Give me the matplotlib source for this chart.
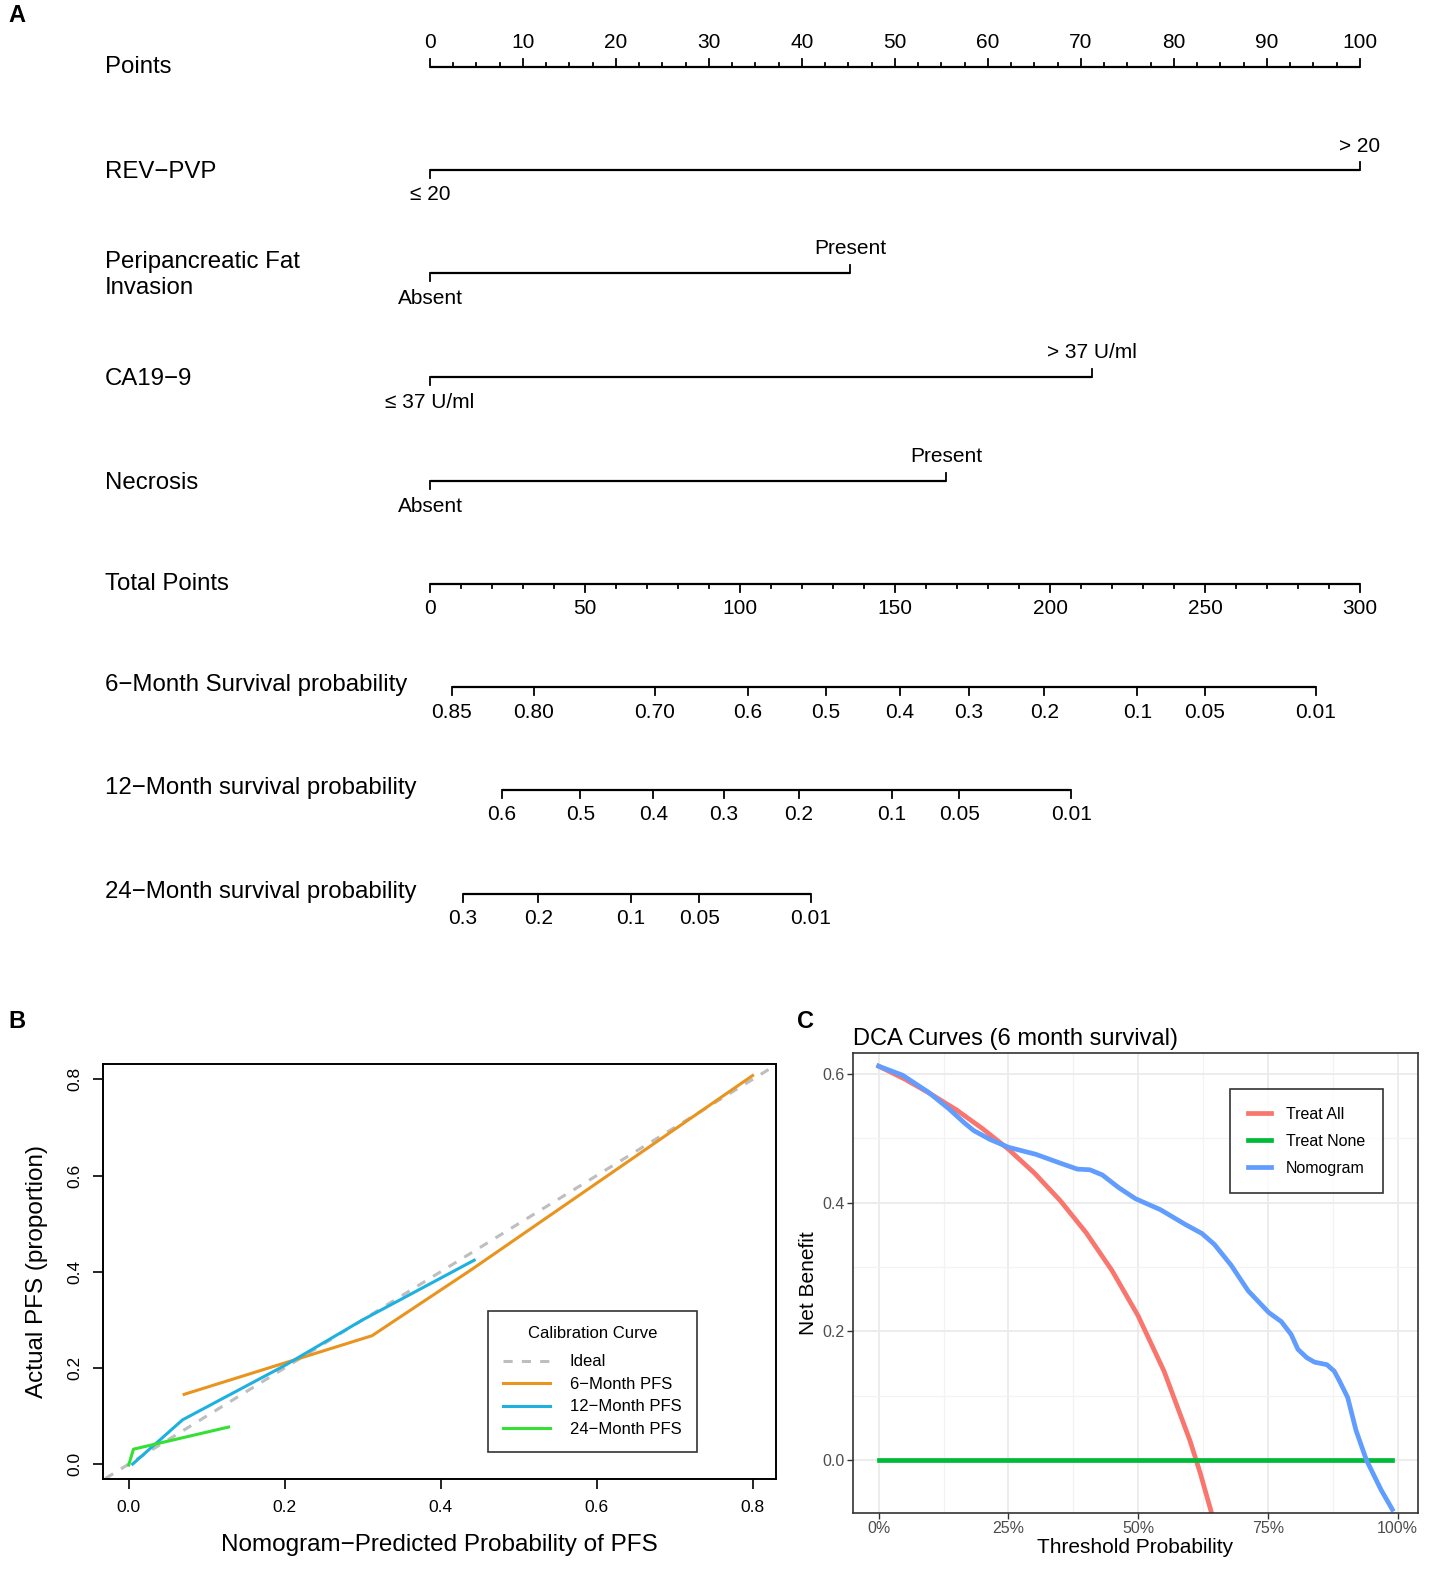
import numpy as np
import matplotlib
matplotlib.use("Agg")
import matplotlib.pyplot as plt

plt.rcParams['font.family'] = ['Liberation Sans', 'DejaVu Sans']

# ---- Panel A: nomogram (points scales) ----
points_ticks = [0, 10, 20, 30, 40, 50, 60, 70, 80, 90, 100]
total_ticks = [0, 50, 100, 150, 200, 250, 300]

var_names = ["REV\u2212PVP", "Peripancreatic Fat\nInvasion", "CA19\u22129", "Necrosis"]
var_low = ["\u2264 20", "Absent", "\u2264 37 U/ml", "Absent"]
var_high = ["> 20", "Present", "> 37 U/ml", "Present"]
var_points = [100, 45.2, 71.2, 55.5]

surv6_labels = ["0.85", "0.80", "0.70", "0.6", "0.5", "0.4", "0.3", "0.2", "0.1", "0.05", "0.01"]
surv6_total = [7.0, 33.4, 72.5, 102.5, 127.8, 151.5, 173.9, 198.2, 228.2, 249.9, 285.8]
surv12_labels = ["0.6", "0.5", "0.4", "0.3", "0.2", "0.1", "0.05", "0.01"]
surv12_total = [23.2, 48.5, 72.0, 94.8, 119.0, 148.9, 170.8, 206.8]
surv24_labels = ["0.3", "0.2", "0.1", "0.05", "0.01"]
surv24_total = [10.7, 35.0, 64.8, 86.8, 122.8]

# ---- Panel B: calibration ----
cal6_x = [0.071, 0.312, 0.44, 0.80]
cal6_y = [0.145, 0.267, 0.405, 0.808]
cal12_x = [0.005, 0.069, 0.20, 0.30, 0.443]
cal12_y = [0.0, 0.092, 0.205, 0.30, 0.424]
cal24_x = [0.0, 0.006, 0.128]
cal24_y = [-0.002, 0.031, 0.077]

# ---- Panel C: decision curves ----
thr_all = [0.0, 0.05, 0.1, 0.15, 0.2, 0.25, 0.3, 0.35, 0.4, 0.45, 0.5, 0.55, 0.6, 0.62, 0.64, 0.66]
nb_all = [0.612, 0.592, 0.569, 0.544, 0.515, 0.483, 0.446, 0.403, 0.353, 0.294, 0.224, 0.138, 0.030, -0.021, -0.078, -0.141]
thr_none = [0.0, 0.99]
nb_none = [0.0, 0.0]
thr_nom = [0.0, 0.046, 0.095, 0.135, 0.165, 0.183, 0.215, 0.25, 0.303, 0.351, 0.383, 0.407, 0.431, 0.463,
           0.495, 0.543, 0.591, 0.623, 0.647, 0.679, 0.712, 0.752, 0.776, 0.795, 0.808, 0.825, 0.840, 0.864,
           0.878, 0.888, 0.904, 0.92, 0.94, 0.968, 0.99]
nb_nom = [0.612, 0.598, 0.572, 0.546, 0.524, 0.512, 0.498, 0.486, 0.475, 0.461, 0.452, 0.451, 0.443, 0.423,
          0.406, 0.389, 0.366, 0.352, 0.335, 0.303, 0.263, 0.229, 0.215, 0.195, 0.172, 0.159, 0.152, 0.148,
          0.138, 0.123, 0.097, 0.046, 0.0, -0.046, -0.077]

W, H = 1438, 1588
fig = plt.figure(figsize=(W / 100, H / 100), dpi=100)

# nomogram axes: x in points units, y in pixel rows
axA = fig.add_axes([0, 1 - 950 / H, 1, 950 / H])
ppx = 9.3  # pixels per point
axA.set_xlim(-430 / ppx, (W - 430) / ppx)
axA.set_ylim(950, 0)
axA.axis('off')

lab_x = (105 - 430) / ppx
lw = 1.6
fs_lab = 17.3
fs_tick = 15
tk = 8  # tick length in px

# Points row
y = 67
axA.text(lab_x, y, "Points", fontsize=fs_lab, va='center', ha='left')
axA.plot([0, 100], [y, y], color='black', lw=lw, solid_capstyle='butt')
for v in np.arange(0, 100.1, 2.5):
    major = v in points_ticks
    axA.plot([v, v], [y, y - (tk if major else 4)], color='black', lw=1.3)
for v in points_ticks:
    axA.text(v, y - 24, str(v), fontsize=fs_tick, ha='center', va='center')

# variable rows
rows_y = [170, 273, 377, 481]
for name, lo, hi, pts, y in zip(var_names, var_low, var_high, var_points, rows_y):
    axA.text(lab_x, y + 2, name, fontsize=fs_lab, va='center', ha='left', linespacing=1.2)
    axA.plot([0, pts], [y, y], color='black', lw=lw, solid_capstyle='butt')
    axA.plot([0, 0], [y, y + tk], color='black', lw=1.3)
    axA.plot([pts, pts], [y, y - tk], color='black', lw=1.3)
    axA.text(0, y + 25, lo, fontsize=fs_tick, ha='center', va='center')
    axA.text(pts, y - 24, hi, fontsize=fs_tick, ha='center', va='center')

# Total points row (scaled so 300 total = 100 points)
y = 584
axA.text(lab_x, y, "Total Points", fontsize=fs_lab, va='center', ha='left')
axA.plot([0, 100], [y, y], color='black', lw=lw, solid_capstyle='butt')
for v in np.arange(0, 301, 10):
    major = v in total_ticks
    axA.plot([v / 3, v / 3], [y, y + (tk if major else 4)], color='black', lw=1.3)
for v in total_ticks:
    axA.text(v / 3, y + 25, str(v), fontsize=fs_tick, ha='center', va='center')

# survival rows
surv_rows = [("6\u2212Month Survival probability", surv6_labels, surv6_total, 687),
             ("12\u2212Month survival probability", surv12_labels, surv12_total, 790),
             ("24\u2212Month survival probability", surv24_labels, surv24_total, 894)]
for name, labs, tots, y in surv_rows:
    axA.text(lab_x, y - 2, name, fontsize=fs_lab, va='center', ha='left')
    xs = [t / 3 for t in tots]
    axA.plot([xs[0], xs[-1]], [y, y], color='black', lw=lw, solid_capstyle='butt')
    for xv, lb in zip(xs, labs):
        axA.plot([xv, xv], [y, y + tk], color='black', lw=1.3)
        axA.text(xv, y + 25, lb, fontsize=fs_tick, ha='center', va='center')

# ---- Panel B ----
axB = fig.add_axes([103 / W, 1 - 1479 / H, 673 / W, 415 / H])
axB.set_xlim(-0.033, 0.830)
axB.set_ylim(-0.031, 0.832)
axB.plot([-0.05, 0.85], [-0.05, 0.85], color='#BEBEBE', lw=2.2, ls=(0, (3, 3)), label='Ideal')
axB.plot(cal6_x, cal6_y, color='#E8941E', lw=2.2, label='6\u2212Month PFS')
axB.plot(cal12_x, cal12_y, color='#1EB0E0', lw=2.2, label='12\u2212Month PFS')
axB.plot(cal24_x, cal24_y, color='#33E033', lw=2.2, label='24\u2212Month PFS')
axB.set_xticks([0.0, 0.2, 0.4, 0.6, 0.8])
axB.set_xticklabels(["0.0", "0.2", "0.4", "0.6", "0.8"])
axB.set_yticks([0.0, 0.2, 0.4, 0.6, 0.8])
axB.set_yticklabels(["0.0", "0.2", "0.4", "0.6", "0.8"], rotation=90, va='center')
axB.tick_params(direction='out', length=7, width=1.2, labelsize=12.5, pad=8)
for s in axB.spines.values():
    s.set_linewidth(1.4)
axB.set_xlabel("Nomogram\u2212Predicted Probability of PFS", fontsize=17.5, labelpad=14)
axB.set_ylabel("Actual PFS (proportion)", fontsize=17.5, labelpad=14)
legB = axB.legend(title="Calibration Curve", loc='lower left', bbox_to_anchor=(0.56, 0.045),
                  fontsize=12, title_fontsize=12, frameon=True, fancybox=False,
                  edgecolor='black', handlelength=2.8, borderpad=0.9, labelspacing=0.45,
                  handletextpad=1.2)
legB.get_frame().set_linewidth(1.2)
legB._legend_box.sep = 10

# ---- Panel C ----
axC = fig.add_axes([853 / W, 1 - 1513 / H, 565 / W, 460 / H])
axC.set_xlim(-0.0495, 1.0395)
axC.set_ylim(-0.0825, 0.6325)
axC.set_xticks([0, 0.25, 0.5, 0.75, 1.0])
axC.set_xticklabels(["0%", "25%", "50%", "75%", "100%"])
axC.set_xticks([0.125, 0.375, 0.625, 0.875], minor=True)
axC.set_yticks([0.0, 0.2, 0.4, 0.6])
axC.set_yticklabels(["0.0", "0.2", "0.4", "0.6"])
axC.set_yticks([0.1, 0.3, 0.5], minor=True)
axC.grid(True, which='major', color='#EBEBEB', lw=1.3)
axC.grid(True, which='minor', color='#F3F3F3', lw=0.9)
axC.set_axisbelow(True)
axC.tick_params(which='major', direction='out', length=4, width=1, color='#333333',
                labelcolor='#4D4D4D', labelsize=11.5, pad=2)
axC.tick_params(which='minor', length=0)
for s in axC.spines.values():
    s.set_color('#333333')
    s.set_linewidth(1.2)
axC.plot(thr_all, nb_all, color='#F8766D', lw=3.4, label='Treat All')
axC.plot(thr_none, nb_none, color='#00BA38', lw=3.4, label='Treat None')
axC.plot(thr_nom, nb_nom, color='#619CFF', lw=3.4, label='Nomogram')
axC.set_title("DCA Curves (6 month survival)", loc='left', fontsize=17, pad=6)
axC.set_xlabel("Threshold Probability", fontsize=15, labelpad=1)
axC.set_ylabel("Net Benefit", fontsize=15, labelpad=3)
legC = axC.legend(loc='upper left', bbox_to_anchor=(0.653, 0.939), fontsize=11.5,
                  frameon=True, fancybox=False, edgecolor='black', handlelength=1.5,
                  borderpad=1.1, labelspacing=0.75, handletextpad=0.9)
legC.get_frame().set_linewidth(1.2)

# panel letters
fig.text(8 / W, 1 - 15 / H, "A", fontsize=17, fontweight='bold', va='center', ha='left')
fig.text(8 / W, 1 - 1022 / H, "B", fontsize=17, fontweight='bold', va='center', ha='left')
fig.text(797 / W, 1 - 1022 / H, "C", fontsize=17, fontweight='bold', va='center', ha='left')

fig.savefig("out.png", dpi=100)
